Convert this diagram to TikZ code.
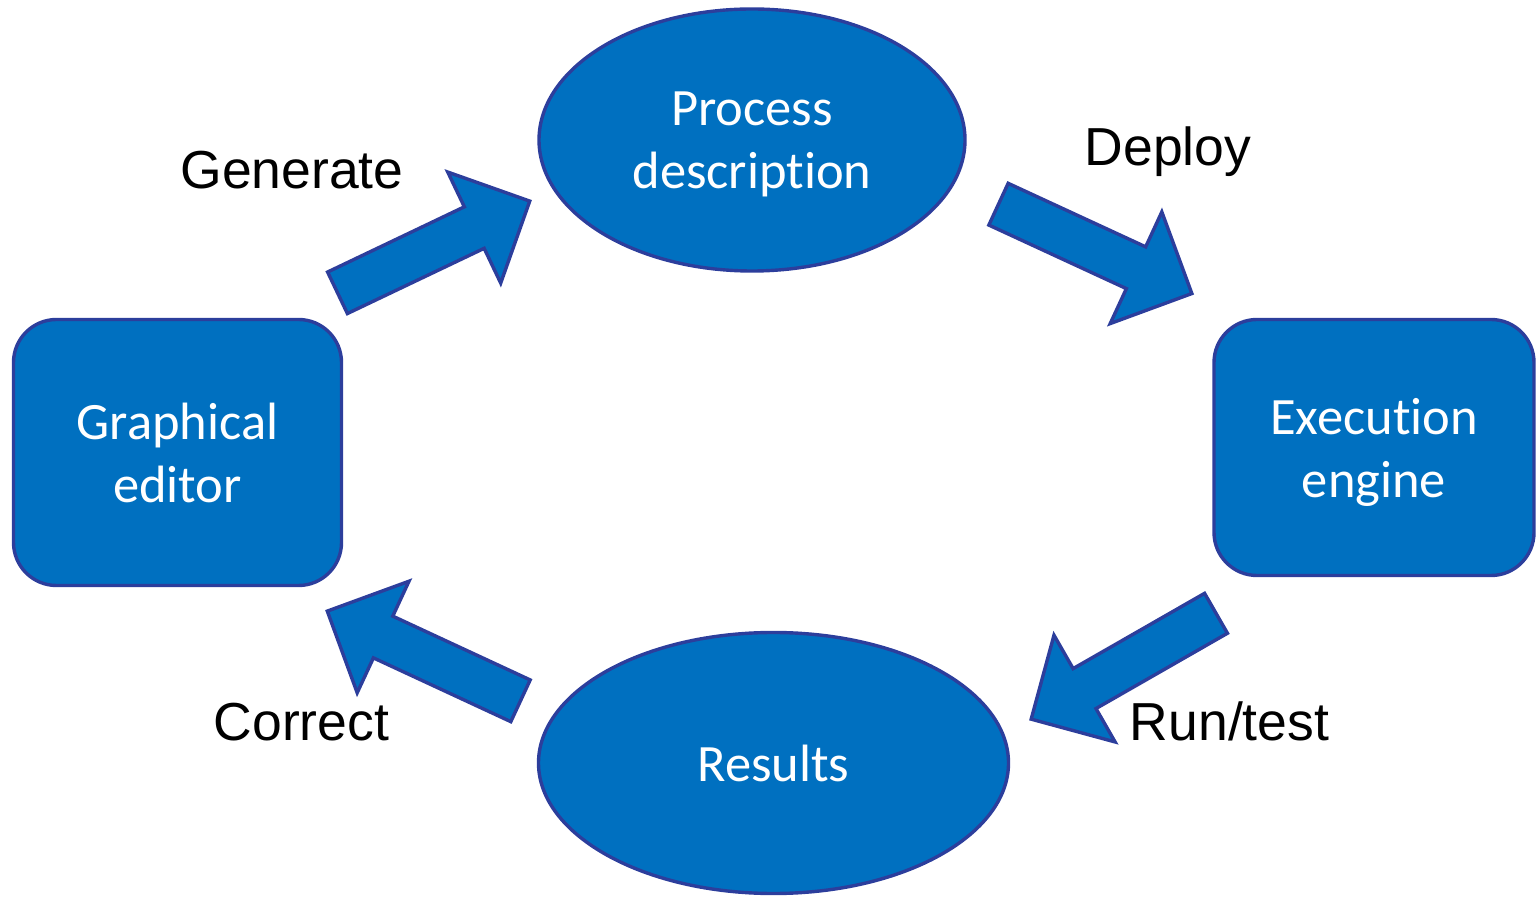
\documentclass[tikz,border=0pt]{standalone}
\usepackage{fontspec}
\usepackage{tikz}
\usetikzlibrary{shapes.geometric}

\newfontfamily\boxfont[Ligatures=NoCommon]{Carlito}
\newfontfamily\labelfont{Liberation Sans}
\definecolor{stepblue}{RGB}{0,112,192}
\definecolor{edgeblue}{RGB}{44,62,156}

% outline of one block arrow, tail centre at the origin, pointing right
\newcommand{\arrowbody}{(0,23) -- (151.5,23) -- (151.5,61.5) -- (213,0)
    -- (151.5,-61.5) -- (151.5,-23) -- (0,-23) -- cycle}

\begin{document}
\begin{tikzpicture}[x=1pt, y=1pt]
    \tikzstyle{stage} = [
        fill=stepblue,
        draw=edgeblue,
        line width=3.4pt,
        text=white,
        inner sep=0pt,
        text depth=0pt,
        align=center,
        font=\boxfont\fontsize{52.5}{63}\selectfont
    ]
    \tikzstyle{oval} = [stage, ellipse]
    \tikzstyle{tool} = [stage, rectangle, rounded corners=43pt,
        minimum width=320pt, minimum height=264pt]
    \tikzstyle{flow} = [
        fill=stepblue,
        draw=edgeblue,
        line width=3.4pt,
        line join=miter
    ]
    \tikzstyle{verb} = [anchor=base, inner sep=0pt,
        font=\labelfont\fontsize{53.5}{60}\selectfont]

    \useasboundingbox (0,0) rectangle (1536,897);

    % the four stages of the cycle
    \node[oval, minimum width=426pt, minimum height=262pt] (process) at (752, 757) {Process\\description};
    \node[tool, minimum width=328pt, minimum height=266pt] (editor) at (177.5, 444.5) {Graphical\\editor};
    \node[tool, minimum height=256pt] (engine) at (1374, 449.5) {Execution\\engine};
    \node[oval, minimum width=470pt, minimum height=261pt] (results) at (773.5, 134) {Results};

    % block arrows: editor -> process -> engine -> results -> editor
    \draw[flow, shift={(337.5,604.2)}, rotate=25.5] \arrowbody;
    \draw[flow, shift={(998.5,692.8)}, rotate=-24.8] \arrowbody;
    \draw[flow, shift={(1216,283.7)}, rotate=209.8] \arrowbody;
    \draw[flow, shift={(520.5,196.2)}, rotate=155.1] \arrowbody;

    % labels
    \node[verb] (generate) at (292, 708) {Generate};
    \node[verb] (deploy) at (1168, 731) {Deploy};
    \node[verb] (correct) at (301.5, 157) {Correct};
    \node[verb] (run) at (1229.5, 157) {Run/test};
\end{tikzpicture}
\end{document}
